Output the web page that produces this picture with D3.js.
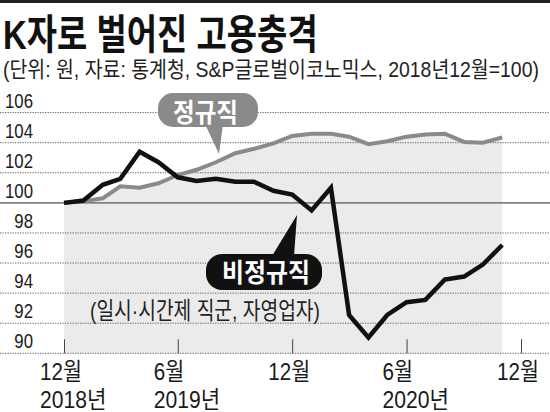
<!DOCTYPE html>
<html>
<head>
<meta charset="utf-8">
<script src="https://cdn.jsdelivr.net/npm/d3@7"></script>
<style>
  body { margin: 0; background: #fff; }
  svg { display: block; }
  text { font-family: "Liberation Sans", "Noto Sans CJK KR", sans-serif; }
</style>
</head>
<body>
<svg width="550" height="412"></svg>
<script>
// 2018년 12월 = 100
var months = ["2018-12", "2019-01", "2019-02", "2019-03", "2019-04", "2019-05",
  "2019-06", "2019-07", "2019-08", "2019-09", "2019-10", "2019-11",
  "2019-12", "2020-01", "2020-02", "2020-03", "2020-04", "2020-05",
  "2020-06", "2020-07", "2020-08", "2020-09", "2020-10", "2020-11"];
var regular = [100, 100.1, 100.3, 101.1, 101.0, 101.3, 101.85, 102.2, 102.7, 103.3, 103.6, 103.95,
  104.45, 104.6, 104.6, 104.4, 103.9, 104.1, 104.4, 104.55, 104.6, 104.05, 104.0, 104.35];
var nonRegular = [100, 100.15, 101.2, 101.6, 103.4, 102.7, 101.7, 101.45, 101.6, 101.4, 101.4, 100.8,
  100.55, 99.5, 101.0, 92.55, 91.05, 92.55, 93.4, 93.55, 94.9, 95.1, 95.9, 97.2];

var yTicks = [90, 92, 94, 96, 98, 100, 102, 104, 106];
var xTicks = ["2018-12", "2019-06", "2019-12", "2020-06", "2020-12"];
var xTickMonth = ["12월", "6월", "12월", "6월", "12월"];
var xTickYear = ["2018년", "2019년", "", "2020년", ""];

var svg = d3.select("svg"),
  width = +svg.attr("width");

var parseMonth = d3.timeParse("%Y-%m");
var data = months.map(function (m, i) {
  return { date: parseMonth(m), regular: regular[i], nonRegular: nonRegular[i] };
});

var x = d3.scaleTime()
  .domain([parseMonth("2018-12"), parseMonth("2020-12")])
  .range([64, 521]);
var y = d3.scaleLinear().domain([90, 106]).range([353.3, 112.6]);

var shade = "#ebebeb", grayLine = "#8a8a8a", ink = "#1a1a1a";

// condensed text: font size sets height, sx squeezes width
function label(parent, str, px, py, size, sx, anchor) {
  return parent.append("text")
    .attr("transform", "translate(" + px + "," + py + ") scale(" + sx + ",1)")
    .attr("text-anchor", anchor || "start")
    .style("font-size", size + "px")
    .attr("fill", ink)
    .text(str);
}

// squeeze a text so it spans w pixels starting at px
function fitText(parent, str, px, py, size, w) {
  var t = parent.append("text")
    .style("font-size", size + "px")
    .attr("fill", ink)
    .text(str);
  var natural = t.node().getComputedTextLength();
  t.attr("transform", "translate(" + px + "," + py + ") scale(" + (w / natural) + ",1)");
  return t;
}

// top rule
svg.append("rect").attr("x", 0).attr("y", 0).attr("width", width).attr("height", 3).attr("fill", "#222");

// title + subtitle
fitText(svg, "K자로 벌어진 고용충격", 3, 49, 41, 313)
  .style("font-weight", "bold").attr("fill", "#111");
fitText(svg, "(단위: 원, 자료: 통계청, S&P글로벌이코노믹스, 2018년12월=100)", 3, 76.5, 22, 536)
  .attr("fill", "#222");

// shaded area under 정규직
var area = d3.area()
  .x(function (d) { return x(d.date); })
  .y0(y(90))
  .y1(function (d) { return y(d.regular); });
svg.append("path").datum(data).attr("fill", shade).attr("d", area);

// gridlines
var grid = svg.append("g");
grid.selectAll("line")
  .data(yTicks)
  .enter().append("line")
  .attr("x1", 0).attr("x2", width)
  .attr("y1", function (d) { return y(d); })
  .attr("y2", function (d) { return y(d); })
  .attr("stroke", function (d) { return d === 100 ? "#808080" : "#666"; })
  .attr("stroke-width", function (d) { return d === 100 ? 1.6 : 1; })
  .attr("stroke-dasharray", function (d) { return d === 100 ? null : "1.3,1.2"; });

// y labels
yTicks.forEach(function (t) {
  label(svg, t, 33, y(t) - 5, 20, 0.84, "end");
});

// x ticks (pointing up from the 90 line)
var xAxis = d3.axisBottom(x)
  .tickValues(xTicks.map(parseMonth))
  .tickSizeInner(-14)
  .tickSizeOuter(0)
  .tickFormat("");
var gx = svg.append("g")
  .attr("transform", "translate(0," + y(90) + ")")
  .call(xAxis);
gx.select(".domain").remove();
gx.selectAll(".tick line").attr("stroke", "#444").attr("stroke-width", 1);

xTicks.forEach(function (t, i) {
  var px = x(parseMonth(t)) - 24;
  label(svg, xTickMonth[i], px, 379.5, 24, 0.86);
  if (xTickYear[i]) label(svg, xTickYear[i], px, 408, 24, 0.88);
});

// lines
var lineReg = d3.line()
  .x(function (d) { return x(d.date); })
  .y(function (d) { return y(d.regular); });
var lineNon = d3.line()
  .x(function (d) { return x(d.date); })
  .y(function (d) { return y(d.nonRegular); });

svg.append("path").datum(data)
  .attr("fill", "none").attr("stroke", grayLine).attr("stroke-width", 4)
  .attr("d", lineReg);
svg.append("path").datum(data)
  .attr("fill", "none").attr("stroke", "#111").attr("stroke-width", 4.5)
  .attr("d", lineNon);

// callout: 정규직
var c1 = svg.append("g");
c1.append("path")
  .attr("d", "M205,124 L223,124 L219,154 Z")
  .attr("fill", grayLine);
c1.append("rect")
  .attr("x", 158).attr("y", 93).attr("width", 100).attr("height", 34)
  .attr("rx", 15).attr("fill", grayLine);
fitText(c1, "정규직", 173, 121.5, 26, 65)
  .style("font-weight", "bold").attr("fill", "#fff");

// callout: 비정규직
var c2 = svg.append("g");
c2.append("path")
  .attr("d", "M272,256 L294,256 L297,215 Z")
  .attr("fill", "#111");
c2.append("rect")
  .attr("x", 206).attr("y", 254).attr("width", 116).attr("height", 36)
  .attr("rx", 16).attr("fill", "#111");
fitText(c2, "비정규직", 222, 281.5, 26, 88)
  .style("font-weight", "bold").attr("fill", "#fff");

fitText(svg, "(일시·시간제 직군, 자영업자)", 90, 318.5, 24, 230)
  .attr("fill", "#222");
</script>
</body>
</html>
